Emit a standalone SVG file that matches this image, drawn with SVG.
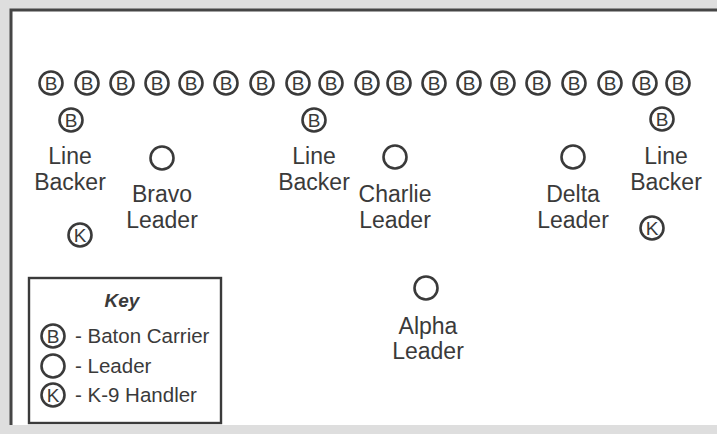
<svg xmlns="http://www.w3.org/2000/svg" width="717" height="434" viewBox="0 0 717 434">
<style>
.t{font-family:"Liberation Sans",Arial,sans-serif;font-size:23px;fill:#3a3a3a;text-anchor:middle}
.k{font-family:"Liberation Sans",Arial,sans-serif;font-size:20.5px;fill:#3a3a3a}
.c{fill:none;stroke:#3a3a3a;stroke-width:2.6}
.l{font-family:"Liberation Sans",Arial,sans-serif;font-size:19px;fill:#3a3a3a;text-anchor:middle}
</style>
<defs>
<g id="B"><circle class="c" r="11.5"/><text class="l" y="7">B</text></g>
<g id="K"><circle class="c" r="11.5"/><text class="l" y="7">K</text></g>
<circle id="L" class="c" r="11.5"/>
</defs>
<rect width="717" height="434" fill="#dedede"/>
<rect x="11" y="10" width="706" height="415" fill="#ffffff"/>
<path d="M11,425 V10 H717" fill="none" stroke="#454545" stroke-width="3"/>
<g id="baton-row">
<use href="#B" x="51" y="83"/><use href="#B" x="87" y="83"/><use href="#B" x="122" y="83"/><use href="#B" x="157" y="83"/><use href="#B" x="191" y="83"/><use href="#B" x="226" y="83"/><use href="#B" x="262" y="83"/><use href="#B" x="298" y="83"/><use href="#B" x="331" y="83"/><use href="#B" x="367" y="83"/><use href="#B" x="399" y="83"/><use href="#B" x="434" y="83"/><use href="#B" x="469" y="83"/><use href="#B" x="503" y="83"/><use href="#B" x="538" y="83"/><use href="#B" x="574" y="83"/><use href="#B" x="610" y="83"/><use href="#B" x="645" y="83"/><use href="#B" x="678" y="83"/>
</g>
<g id="linebacker-left"><use href="#B" x="71" y="120"/><text class="t" x="70" y="164">Line</text><text class="t" x="70" y="190">Backer</text></g>
<g id="linebacker-center"><use href="#B" x="314" y="120"/><text class="t" x="314" y="164">Line</text><text class="t" x="314" y="190">Backer</text></g>
<g id="linebacker-right"><use href="#B" x="662" y="119"/><text class="t" x="666" y="164">Line</text><text class="t" x="666" y="190">Backer</text></g>
<g id="bravo-leader"><use href="#L" x="162" y="158"/><text class="t" x="162" y="202">Bravo</text><text class="t" x="162" y="228">Leader</text></g>
<g id="charlie-leader"><use href="#L" x="395" y="157"/><text class="t" x="395" y="202">Charlie</text><text class="t" x="395" y="228">Leader</text></g>
<g id="delta-leader"><use href="#L" x="573" y="157"/><text class="t" x="573" y="202">Delta</text><text class="t" x="573" y="228">Leader</text></g>
<g id="alpha-leader"><use href="#L" x="426" y="288"/><text class="t" x="428" y="334">Alpha</text><text class="t" x="428" y="359">Leader</text></g>
<g id="k9-left"><use href="#K" x="80" y="235"/></g>
<g id="k9-right"><use href="#K" x="652" y="228"/></g>
<g id="key">
<rect x="29" y="278" width="192" height="145" fill="none" stroke="#3a3a3a" stroke-width="2.4"/>
<text x="122" y="307" font-family="Liberation Sans,Arial,sans-serif" font-size="19" font-weight="bold" font-style="italic" fill="#3a3a3a" text-anchor="middle">Key</text>
<use href="#B" x="53" y="336"/><text class="k" x="75" y="343">- Baton Carrier</text>
<use href="#L" x="53" y="366"/><text class="k" x="75" y="373">- Leader</text>
<use href="#K" x="53" y="395"/><text class="k" x="75" y="402">- K-9 Handler</text>
</g>
</svg>
